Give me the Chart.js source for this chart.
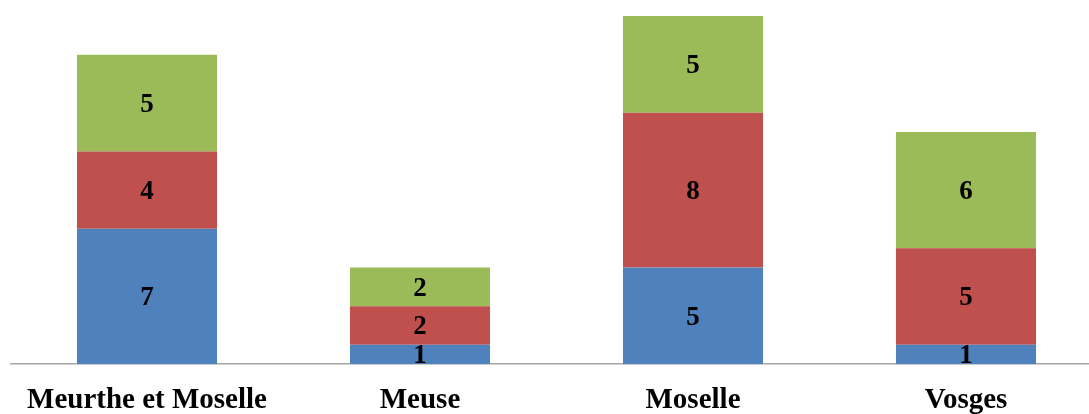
<!DOCTYPE html>
<html>
<head>
<meta charset="utf-8">
<script src="https://cdn.jsdelivr.net/npm/chart.js@4/dist/chart.umd.min.js"></script>
<style>
  html, body { margin: 0; padding: 0; background: #fff; overflow: hidden; }
  #wrap { width: 1103px; height: 414px; }
</style>
</head>
<body>
<div id="wrap"><canvas id="chart" width="1103" height="414"></canvas></div>
<script>
const categories = ['Meurthe et Moselle', 'Meuse', 'Moselle', 'Vosges'];
const seriesBlue = [7, 1, 5, 1];
const seriesRed = [4, 2, 8, 5];
const seriesGreen = [5, 2, 5, 6];

// draws the value in the middle of each bar segment
const segmentLabels = {
  id: 'segmentLabels',
  afterDatasetsDraw(chart) {
    const ctx = chart.ctx;
    ctx.save();
    ctx.font = 'bold 27px "Liberation Serif", "Times New Roman", serif';
    ctx.fillStyle = '#000';
    ctx.textAlign = 'center';
    ctx.textBaseline = 'middle';
    chart.data.datasets.forEach((ds, i) => {
      chart.getDatasetMeta(i).data.forEach((bar, j) => {
        ctx.fillText(ds.data[j], bar.x, (bar.y + bar.base) / 2 + 2);
      });
    });
    ctx.restore();
  }
};

new Chart(document.getElementById('chart'), {
  type: 'bar',
  data: {
    labels: categories,
    datasets: [
      { label: 'bleu', data: seriesBlue, backgroundColor: '#4F81BD' },
      { label: 'rouge', data: seriesRed, backgroundColor: '#C0504D' },
      { label: 'vert', data: seriesGreen, backgroundColor: '#9BBB59' }
    ]
  },
  options: {
    responsive: false,
    animation: false,
    layout: { padding: { left: 10.5, right: 0.5, top: 16, bottom: -23 } },
    datasets: { bar: { categoryPercentage: 1, barPercentage: 0.513 } },
    plugins: { legend: { display: false }, tooltip: { enabled: false } },
    scales: {
      x: {
        stacked: true,
        grid: { display: false, drawTicks: false },
        border: { color: '#a6a6a6', width: 1.5 },
        ticks: {
          color: '#000',
          padding: 19,
          font: { family: '"Liberation Serif", "Times New Roman", serif', size: 29, weight: 'bold' }
        }
      },
      y: {
        stacked: true,
        display: false,
        min: 0,
        max: 18
      }
    }
  },
  plugins: [segmentLabels]
});
</script>
</body>
</html>
